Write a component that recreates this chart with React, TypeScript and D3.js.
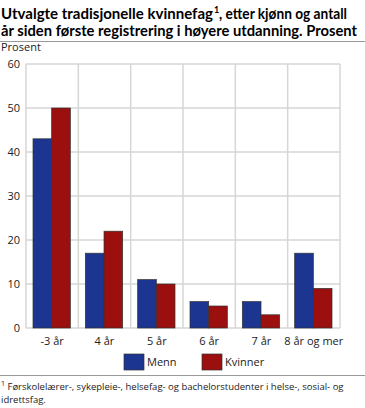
import React from "react";
import * as d3 from "d3";

const categories = ["-3 år", "4 år", "5 år", "6 år", "7 år", "8 år og mer"];
const menn = [43, 17, 11, 6, 6, 17];
const kvinner = [50, 22, 10, 5, 3, 9];
const series = [
  { name: "Menn", values: menn, color: "#1b3591" },
  { name: "Kvinner", values: kvinner, color: "#9c0f0f" },
];
const yTicks = [0, 10, 20, 30, 40, 50, 60];

const W = 365;
const H = 408;
const font = "'Open Sans', 'DejaVu Sans', sans-serif";

export default function App() {
  const left = 26;
  const right = 340;
  const top = 64;
  const bottom = 328;

  const x = d3.scaleBand<string>().domain(categories).range([left, right]).paddingInner(0).paddingOuter(0);
  const inner = d3
    .scaleBand<string>()
    .domain(series.map((s) => s.name))
    .range([7, x.bandwidth() - 8]);
  const y = d3.scaleLinear().domain([0, 60]).range([bottom, top]);

  return (
    <svg width={W} height={H} style={{ position: "absolute", left: 0, top: 0, fontFamily: font }}>
      <rect width={W} height={H} fill="#fff" />
      <g fontSize={14.5} fontWeight="bold" fill="#000" fontFamily="Lato, sans-serif">
        <text x={1} y={19} textLength={212} lengthAdjust="spacingAndGlyphs">Utvalgte tradisjonelle kvinnefag</text>
        <text x={214} y={13} fontSize={9}>1</text>
        <text x={219} y={19} textLength={128} lengthAdjust="spacingAndGlyphs">, etter kjønn og antall</text>
        <text x={1} y={36} textLength={356} lengthAdjust="spacingAndGlyphs">
          år siden første registrering i høyere utdanning. Prosent
        </text>
      </g>
      <line x1={0} x2={W} y1={41.5} y2={41.5} stroke="#999" strokeWidth={1} />
      <text x={1} y={51} fontSize={11} fill="#222">Prosent</text>

      {yTicks.map((t) => (
        <g key={t}>
          <line x1={left} x2={right} y1={y(t)} y2={y(t)} stroke="#d6d6d6" strokeWidth={1.5} />
          <text x={20} y={y(t) + 4} fontSize={11} textAnchor="end" fill="#222">{t}</text>
        </g>
      ))}
      {d3.range(categories.length + 1).map((i) => {
        const xx = left + i * x.step();
        return <line key={i} x1={xx} x2={xx} y1={top} y2={bottom} stroke="#d6d6d6" strokeWidth={1.5} />;
      })}

      {categories.map((c, i) => (
        <g key={c}>
          {series.map((s) => (
            <rect
              key={s.name}
              x={(x(c) ?? 0) + (inner(s.name) ?? 0)}
              y={y(s.values[i])}
              width={inner.bandwidth()}
              height={y(0) - y(s.values[i])}
              fill={s.color}
              stroke="#333"
              strokeWidth={0.7}
            />
          ))}
          <text x={(x(c) ?? 0) + x.bandwidth() / 2} y={345} fontSize={11} textAnchor="middle" fill="#222">
            {c}
          </text>
        </g>
      ))}

      {series.map((s, i) => {
        const lx = i === 0 ? 124 : 202;
        return (
          <g key={s.name}>
            <rect x={lx} y={354} width={20} height={16} fill={s.color} stroke="#333" strokeWidth={0.7} />
            <text x={lx + 23} y={366} fontSize={11} fill="#222">{s.name}</text>
          </g>
        );
      })}
      <line x1={0} x2={W} y1={375.5} y2={375.5} stroke="#999" strokeWidth={1} />
      <text x={1} y={390} fontSize={9.5} fill="#222">
        <tspan fontSize={7} dy={-4}>1</tspan>
        <tspan dy={4}> Førskolelærer-, sykepleie-, helsefag- og bachelorstudenter i helse-, sosial- og</tspan>
      </text>
      <text x={1} y={403} fontSize={9.5} fill="#222">idrettsfag.</text>
    </svg>
  );
}
